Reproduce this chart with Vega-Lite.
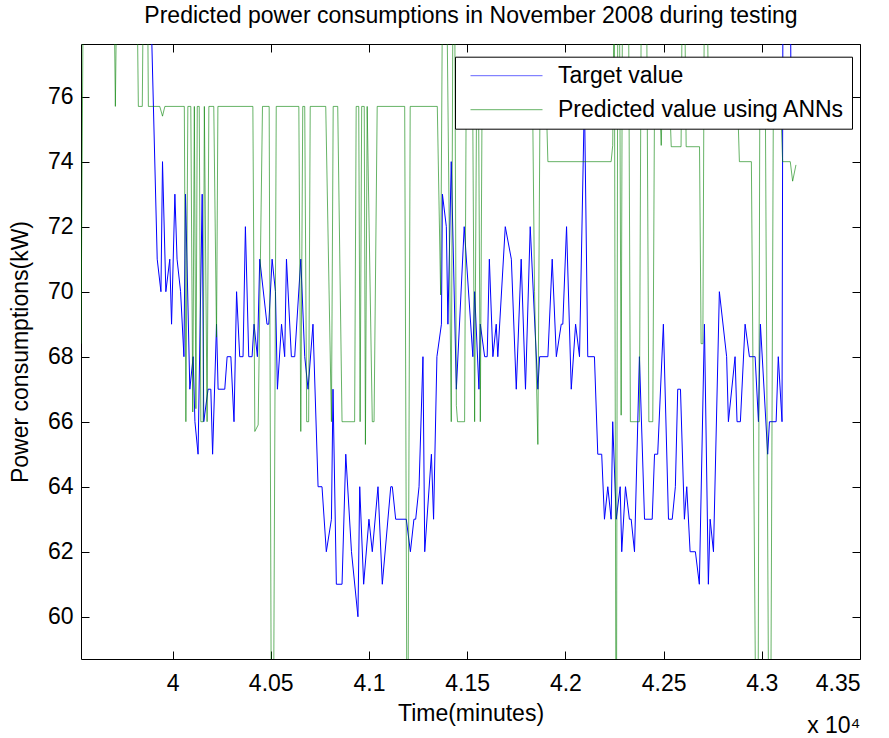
{
  "$schema": "https://vega.github.io/schema/vega-lite/v6.json",
  "width": 779,
  "height": 615,
  "autosize": {"type": "none"},
  "padding": {"left": 81, "top": 44, "right": 29, "bottom": 79},
  "background": "white",
  "config": {
    "font": "Liberation Sans",
    "view": {"stroke": "black", "strokeWidth": 1},
    "axis": {"grid": false, "domain": false, "tickColor": "black", "tickSize": -8, "tickWidth": 1, "labelColor": "black", "labelFont": "Liberation Sans", "labelFontSize": 23, "titleFont": "Liberation Sans", "titleFontSize": 23, "titleFontWeight": "normal", "titleColor": "black"}
  },
  "title": {"text": "x 10⁴", "orient": "bottom", "anchor": "end", "fontSize": 23, "fontWeight": "normal", "color": "black", "font": "Liberation Sans", "offset": -10},
  "datasets": {
    "target": [
      {"t":39534,"v":80},{"t":39885,"v":80},{"t":39922,"v":71},{"t":39941,"v":70},{"t":39949,"v":74},{"t":39966,"v":70},{"t":39986,"v":71},{"t":39995,"v":69},{"t":40012,"v":73},{"t":40023,"v":71},{"t":40041,"v":70},{"t":40058,"v":68},{"t":40066,"v":73},{"t":40088,"v":67},{"t":40105,"v":68},{"t":40114,"v":66},{"t":40130,"v":65},{"t":40151,"v":73},{"t":40159,"v":66},{"t":40181,"v":67},{"t":40195,"v":67},{"t":40204,"v":65},{"t":40224,"v":69},{"t":40232,"v":67},{"t":40266,"v":67},{"t":40278,"v":68},{"t":40297,"v":68},{"t":40313,"v":66},{"t":40326,"v":70},{"t":40342,"v":68},{"t":40359,"v":68},{"t":40371,"v":72},{"t":40388,"v":68},{"t":40405,"v":68},{"t":40415,"v":69},{"t":40432,"v":68},{"t":40444,"v":71},{"t":40481,"v":69},{"t":40490,"v":69},{"t":40507,"v":71},{"t":40524,"v":70},{"t":40534,"v":67},{"t":40555,"v":69},{"t":40571,"v":68},{"t":40580,"v":71},{"t":40605,"v":68},{"t":40622,"v":68},{"t":40653,"v":71},{"t":40673,"v":68},{"t":40690,"v":67},{"t":40715,"v":69},{"t":40741,"v":64},{"t":40761,"v":64},{"t":40783,"v":62},{"t":40809,"v":63},{"t":40817,"v":67},{"t":40834,"v":61},{"t":40863,"v":61},{"t":40882,"v":65},{"t":40911,"v":62},{"t":40944,"v":60},{"t":40953,"v":64},{"t":40973,"v":61},{"t":41000,"v":63},{"t":41017,"v":62},{"t":41046,"v":64},{"t":41068,"v":61},{"t":41111,"v":64},{"t":41119,"v":64},{"t":41136,"v":63},{"t":41190,"v":63},{"t":41211,"v":62},{"t":41229,"v":63},{"t":41238,"v":63},{"t":41255,"v":64},{"t":41275,"v":68},{"t":41284,"v":62},{"t":41318,"v":65},{"t":41329,"v":63},{"t":41346,"v":68},{"t":41369,"v":69},{"t":41374,"v":73},{"t":41394,"v":72},{"t":41402,"v":69},{"t":41419,"v":74},{"t":41445,"v":67},{"t":41485,"v":72},{"t":41529,"v":68},{"t":41538,"v":70},{"t":41560,"v":67},{"t":41567,"v":69},{"t":41589,"v":68},{"t":41602,"v":68},{"t":41613,"v":71},{"t":41631,"v":68},{"t":41648,"v":69},{"t":41656,"v":68},{"t":41694,"v":72},{"t":41725,"v":71},{"t":41750,"v":67},{"t":41775,"v":71},{"t":41797,"v":67},{"t":41821,"v":72},{"t":41860,"v":67},{"t":41869,"v":68},{"t":41911,"v":68},{"t":41933,"v":71},{"t":41954,"v":68},{"t":41979,"v":69},{"t":41987,"v":69},{"t":42006,"v":72},{"t":42030,"v":67},{"t":42052,"v":69},{"t":42072,"v":68},{"t":42097,"v":76},{"t":42114,"v":68},{"t":42148,"v":68},{"t":42165,"v":65},{"t":42185,"v":65},{"t":42199,"v":63},{"t":42216,"v":64},{"t":42233,"v":63},{"t":42241,"v":66},{"t":42259,"v":63},{"t":42279,"v":64},{"t":42287,"v":62},{"t":42306,"v":64},{"t":42326,"v":63},{"t":42335,"v":63},{"t":42352,"v":62},{"t":42377,"v":68},{"t":42403,"v":63},{"t":42442,"v":63},{"t":42454,"v":65},{"t":42470,"v":65},{"t":42499,"v":69},{"t":42525,"v":63},{"t":42544,"v":63},{"t":42560,"v":64},{"t":42572,"v":67},{"t":42586,"v":67},{"t":42606,"v":63},{"t":42618,"v":64},{"t":42635,"v":62},{"t":42662,"v":62},{"t":42682,"v":61},{"t":42708,"v":69},{"t":42728,"v":61},{"t":42737,"v":63},{"t":42754,"v":62},{"t":42784,"v":70},{"t":42821,"v":68},{"t":42830,"v":66},{"t":42864,"v":68},{"t":42874,"v":66},{"t":42891,"v":66},{"t":42915,"v":69},{"t":42937,"v":68},{"t":42966,"v":68},{"t":42983,"v":66},{"t":42993,"v":69},{"t":43030,"v":65},{"t":43039,"v":66},{"t":43073,"v":66},{"t":43084,"v":68},{"t":43103,"v":66},{"t":43108,"v":80},{"t":43145,"v":80},{"t":43149,"v":76}
    ],
    "predicted": [
      {"t":39534,"v":68.4},{"t":39546,"v":80},{"t":39701,"v":80},{"t":39709,"v":75.7},{"t":39717,"v":80},{"t":39818,"v":80},{"t":39826,"v":75.7},{"t":39846,"v":75.7},{"t":39852,"v":80},{"t":39872,"v":80},{"t":39877,"v":75.7},{"t":39935,"v":75.7},{"t":39949,"v":75.4},{"t":39961,"v":75.7},{"t":40060,"v":75.7},{"t":40068,"v":66},{"t":40078,"v":75.7},{"t":40093,"v":75.7},{"t":40103,"v":66.3},{"t":40111,"v":75.7},{"t":40119,"v":66.4},{"t":40126,"v":75.7},{"t":40136,"v":75.7},{"t":40144,"v":66},{"t":40156,"v":66},{"t":40162,"v":75.7},{"t":40176,"v":66},{"t":40185,"v":75.7},{"t":40210,"v":75.7},{"t":40224,"v":68.6},{"t":40231,"v":75.7},{"t":40409,"v":75.7},{"t":40419,"v":65.7},{"t":40436,"v":65.9},{"t":40458,"v":75.7},{"t":40492,"v":75.7},{"t":40504,"v":55},{"t":40513,"v":55},{"t":40528,"v":75.7},{"t":40643,"v":75.7},{"t":40653,"v":65.7},{"t":40663,"v":75.7},{"t":40673,"v":75.7},{"t":40683,"v":66},{"t":40693,"v":66},{"t":40701,"v":75.7},{"t":40780,"v":75.7},{"t":40809,"v":66},{"t":40818,"v":75.7},{"t":40841,"v":75.7},{"t":40863,"v":66},{"t":40927,"v":66},{"t":40935,"v":75.7},{"t":40948,"v":75.7},{"t":40955,"v":66},{"t":40963,"v":75.7},{"t":40976,"v":75.7},{"t":40982,"v":65.3},{"t":40991,"v":75.7},{"t":41017,"v":66},{"t":41026,"v":66},{"t":41042,"v":75.7},{"t":41182,"v":75.7},{"t":41196,"v":52},{"t":41210,"v":75.7},{"t":41348,"v":75.7},{"t":41365,"v":69.9},{"t":41375,"v":80},{"t":41395,"v":80},{"t":41419,"v":66},{"t":41428,"v":80},{"t":41436,"v":80},{"t":41445,"v":66.5},{"t":41451,"v":66},{"t":41487,"v":66},{"t":41495,"v":76},{"t":41528,"v":76},{"t":41538,"v":66},{"t":41548,"v":76},{"t":41558,"v":76},{"t":41567,"v":66},{"t":41576,"v":76},{"t":41833,"v":76},{"t":41843,"v":70},{"t":41860,"v":65.3},{"t":41871,"v":76},{"t":41902,"v":76},{"t":41911,"v":74},{"t":42233,"v":74},{"t":42241,"v":74.5},{"t":42249,"v":80},{"t":42259,"v":52},{"t":42267,"v":80},{"t":42275,"v":80},{"t":42284,"v":66.2},{"t":42291,"v":80},{"t":42321,"v":80},{"t":42331,"v":66},{"t":42377,"v":66},{"t":42387,"v":80},{"t":42413,"v":80},{"t":42425,"v":66},{"t":42445,"v":66},{"t":42454,"v":76},{"t":42479,"v":76},{"t":42488,"v":74.5},{"t":42494,"v":76},{"t":42530,"v":76},{"t":42539,"v":74.46},{"t":42589,"v":74.46},{"t":42596,"v":80},{"t":42606,"v":80},{"t":42615,"v":74.46},{"t":42683,"v":74.46},{"t":42691,"v":68.4},{"t":42700,"v":68.4},{"t":42708,"v":80},{"t":42721,"v":80},{"t":42728,"v":76},{"t":42876,"v":76},{"t":42886,"v":74},{"t":42947,"v":74},{"t":42978,"v":50},{"t":42990,"v":76},{"t":43018,"v":76},{"t":43041,"v":50},{"t":43059,"v":76},{"t":43095,"v":76},{"t":43106,"v":74},{"t":43145,"v":74},{"t":43157,"v":73.4},{"t":43174,"v":73.9}
    ]
  },
  "layer": [
    {
      "data": {"name": "target"},
      "mark": {"type": "line", "clip": true, "strokeWidth": 1},
      "encoding": {
        "x": {"field": "t", "type": "quantitative", "scale": {"domain": [39534, 43500], "nice": false, "zero": false},
              "axis": {"orient": "bottom", "values": [40000, 40500, 41000, 41500, 42000, 42500, 43000, 43500], "labelExpr": "datum.value / 10000", "labelPadding": 21, "title": "Time(minutes)", "titlePadding": 7}},
        "y": {"field": "v", "type": "quantitative", "scale": {"domain": [58.7, 77.62], "nice": false, "zero": false},
              "axis": {"orient": "left", "values": [60, 62, 64, 66, 68, 70, 72, 74, 76], "labelPadding": 16, "title": "Power consumptions(kW)", "titlePadding": 15}},
        "color": {"datum": "Target value", "type": "nominal",
                  "scale": {"domain": ["Target value", "Predicted value using ANNs"], "range": ["#0000ff", "#008000"]},
                  "legend": {"orient": "none", "legendX": 374, "legendY": 12.7, "title": null, "direction": "vertical", "strokeColor": "black", "fillColor": "white", "padding": 7, "symbolType": "stroke", "symbolSize": 5184, "symbolStrokeWidth": 1, "clipHeight": 24, "rowPadding": 10, "symbolOffset": 8, "labelOffset": 15, "labelFontSize": 23, "labelLimit": 600, "labelExpr": "datum.label + '\u00a0\u00a0'", "labelFont": "Liberation Sans", "labelColor": "black"}}
      }
    },
    {
      "data": {"name": "predicted"},
      "mark": {"type": "line", "clip": true, "strokeWidth": 1, "opacity": 0.6},
      "encoding": {
        "x": {"field": "t", "type": "quantitative",
              "axis": {"orient": "top", "values": [40000, 40500, 41000, 41500, 42000, 42500, 43000, 43500], "labels": false, "title": "Predicted power consumptions in November 2008 during testing", "titlePadding": 16, "titleFontSize": 23}},
        "y": {"field": "v", "type": "quantitative",
              "axis": {"orient": "right", "values": [60, 62, 64, 66, 68, 70, 72, 74, 76], "labels": false, "title": null}},
        "color": {"datum": "Predicted value using ANNs", "type": "nominal"}
      }
    }
  ],
  "resolve": {"axis": {"x": "independent", "y": "independent"}}
}
